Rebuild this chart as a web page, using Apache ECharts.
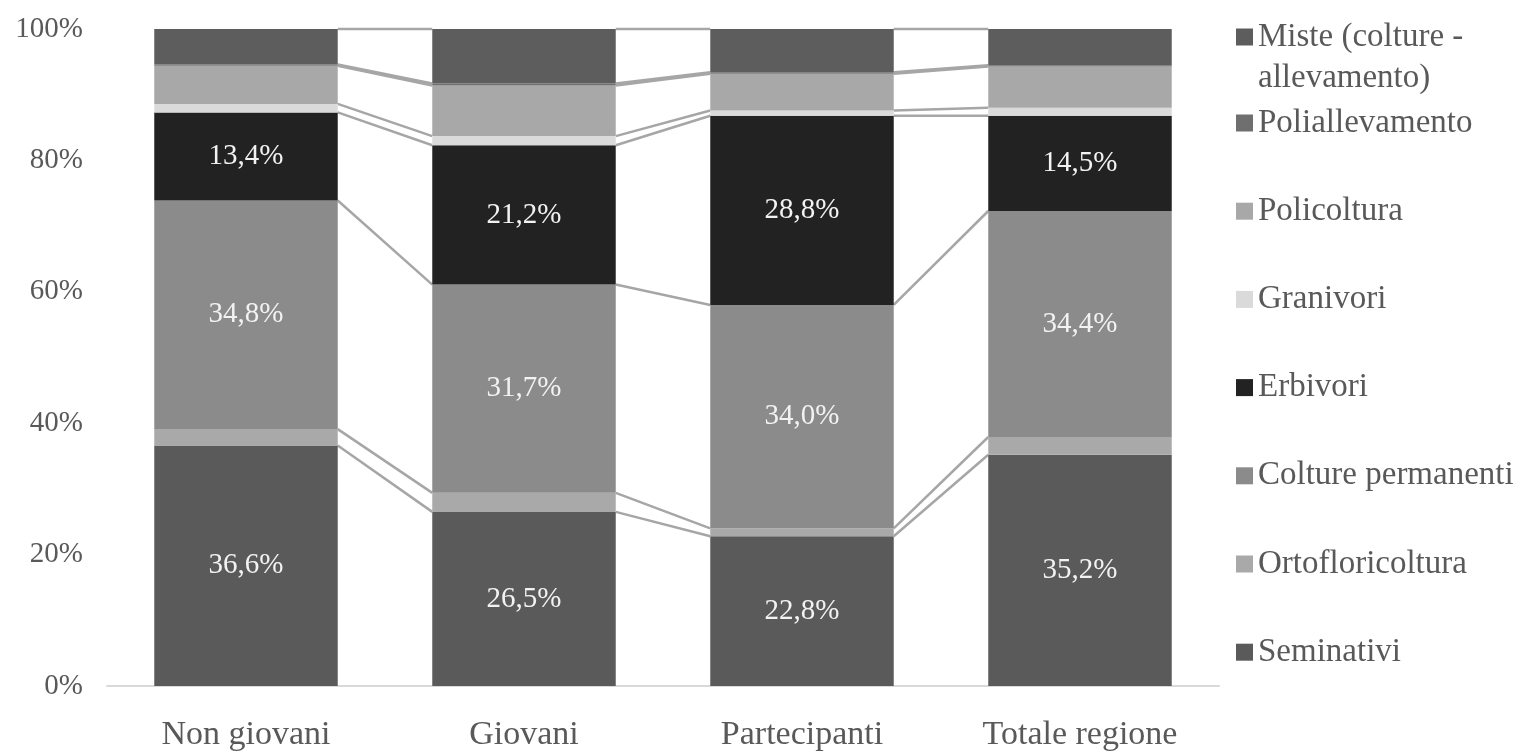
<!DOCTYPE html>
<html>
<head>
<meta charset="utf-8">
<script src="https://cdn.jsdelivr.net/npm/echarts@6/dist/echarts.min.js"></script>
<style>
  html, body { margin: 0; padding: 0; background: #ffffff; }
  #chart { width: 1521px; height: 756px; }
</style>
</head>
<body>
<div id="chart"></div>
<script>
// Categorie (asse X)
const categories = ['Non giovani', 'Giovani', 'Partecipanti', 'Totale regione'];

// Quote percentuali per orientamento tecnico-economico
const seminativi       = [36.6, 26.5, 22.8, 35.2];
const ortofloricoltura = [2.5, 2.9, 1.2, 2.7];
const colturePermanenti = [34.8, 31.7, 34.0, 34.4];
const erbivori         = [13.4, 21.2, 28.8, 14.5];
const granivori        = [1.3, 1.4, 0.8, 1.2];
const policoltura      = [5.8, 7.7, 5.6, 6.3];
const poliallevamento  = [0.2, 0.3, 0.2, 0.2];
const miste            = [5.4, 8.3, 6.6, 5.5];

// Etichette dell'asse Y
const yTicks = [0, 20, 40, 60, 80, 100];

const FONT = '"Liberation Serif", "Times New Roman", serif';
const BAR_RATIO = 0.66;

const seriesDefs = [
  { name: 'Seminativi', data: seminativi, color: '#5a5a5a', label: true },
  { name: 'Ortofloricoltura', data: ortofloricoltura, color: '#a9a9a9', label: false },
  { name: 'Colture permanenti', data: colturePermanenti, color: '#8b8b8b', label: true },
  { name: 'Erbivori', data: erbivori, color: '#222222', label: true },
  { name: 'Granivori', data: granivori, color: '#dadada', label: false },
  { name: 'Policoltura', data: policoltura, color: '#a8a8a8', label: false },
  { name: 'Poliallevamento', data: poliallevamento, color: '#6f6f6f', label: false },
  { name: 'Miste (colture - allevamento)', data: miste, color: '#5d5d5d', label: false }
];

const fmt = v => v.toFixed(1).replace('.', ',') + '%';

const barSeries = seriesDefs.map(s => ({
  name: s.name,
  type: 'bar',
  stack: 'tot',
  barWidth: (BAR_RATIO * 100) + '%',
  data: s.data,
  itemStyle: { color: s.color },
  label: {
    show: s.label,
    position: 'inside',
    color: '#f2f2f2',
    fontFamily: FONT,
    fontSize: 29,
    formatter: p => fmt(p.value)
  },
  emphasis: { disabled: true }
}));

// Linee di serie: collegano il limite superiore di ogni segmento tra barre adiacenti
const boundaryData = [];
const running = categories.map(() => 0);
seriesDefs.forEach(s => {
  s.data.forEach((v, i) => { running[i] += v; });
  for (let i = 0; i < categories.length - 1; i++) {
    boundaryData.push([i, Math.min(running[i], 100), Math.min(running[i + 1], 100)]);
  }
});

const seriesLines = {
  type: 'custom',
  name: 'linee',
  silent: true,
  z: 1,
  data: boundaryData,
  encode: { x: 0, y: [1, 2] },
  renderItem: (params, api) => {
    const a = api.coord([api.value(0), api.value(1)]);
    const b = api.coord([api.value(0) + 1, api.value(2)]);
    const half = api.size([1, 0])[0] * BAR_RATIO / 2;
    return {
      type: 'line',
      shape: { x1: a[0] + half, y1: a[1], x2: b[0] - half, y2: b[1] },
      style: { stroke: '#a6a6a6', lineWidth: 2.5 }
    };
  }
};

const legendText = { fontFamily: FONT, fontSize: 33, color: '#595959', lineHeight: 41 };
const legendOrder = seriesDefs.map(s => s.name).reverse();

const chart = echarts.init(document.getElementById('chart'), null, { renderer: 'canvas' });
chart.setOption({
  animation: false,
  backgroundColor: '#ffffff',
  grid: { left: 107, right: 302, top: 29, bottom: 70 },
  legend: [
    {
      // voce su due righe: la prima riga vuota allinea il simbolo alla prima riga di testo
      data: [legendOrder[0]],
      orient: 'vertical',
      left: 1236,
      top: -24.5,
      padding: 0,
      itemWidth: 17,
      itemHeight: 17,
      icon: 'rect',
      selectedMode: false,
      formatter: () => ' \nMiste (colture -\nallevamento)',
      textStyle: legendText
    },
    {
      data: legendOrder.slice(1),
      orient: 'vertical',
      left: 1236,
      top: 102.5,
      padding: 0,
      itemGap: 47.2,
      itemWidth: 17,
      itemHeight: 17,
      icon: 'rect',
      selectedMode: false,
      textStyle: legendText
    }
  ],
  xAxis: {
    type: 'category',
    data: categories,
    axisLine: { show: true, lineStyle: { color: '#d9d9d9', width: 2 } },
    axisTick: { show: false },
    axisLabel: { fontFamily: FONT, fontSize: 34, color: '#595959', margin: 32 }
  },
  yAxis: {
    type: 'value',
    min: yTicks[0],
    max: yTicks[yTicks.length - 1],
    interval: yTicks[1] - yTicks[0],
    axisLine: { show: false },
    axisTick: { show: false },
    splitLine: { show: false },
    axisLabel: { fontFamily: FONT, fontSize: 29, color: '#595959', margin: 24, formatter: '{value}%' }
  },
  series: barSeries.concat([seriesLines])
});
</script>
</body>
</html>
